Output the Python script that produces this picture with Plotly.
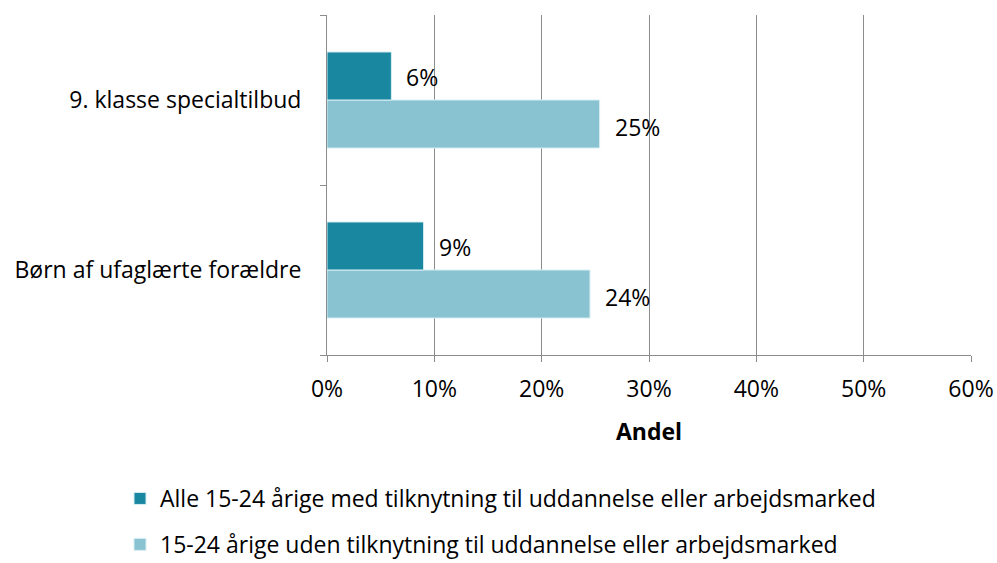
import plotly.graph_objects as go

categories = ["Børn af ufaglærte forældre", "9. klasse specialtilbud"]
series_names = [
    "Alle 15-24 årige med tilknytning til uddannelse eller arbejdsmarked",
    "15-24 årige uden tilknytning til uddannelse eller arbejdsmarked",
]
with_attachment = [9.0, 6.0]
without_attachment = [24.5, 25.4]
labels_with = ["9%", "6%"]
labels_without = ["24%", "25%"]
tick_vals = [0, 10, 20, 30, 40, 50, 60]
tick_text = ["0%", "10%", "20%", "30%", "40%", "50%", "60%"]

dark = "#1A87A0"
light = "#89C2D0"
FONT = "'Open Sans', sans-serif"
FS = 23

fig = go.Figure()
fig.add_trace(go.Bar(
    y=categories, x=without_attachment, orientation="h", name=series_names[1],
    marker=dict(color=light, line=dict(color="#d8eef3", width=1)),
    legendgroup="b", legendrank=2, hoverinfo="x+name",
))
fig.add_trace(go.Bar(
    y=categories, x=with_attachment, orientation="h", name=series_names[0],
    marker=dict(color=dark, line=dict(color="#d8eef3", width=1)),
    legendgroup="a", legendrank=1, hoverinfo="x+name",
))

for cat, v, t in zip(categories, with_attachment, labels_with):
    fig.add_annotation(x=v, y=cat, text=t, showarrow=False, xanchor="left",
                       xshift=13, yshift=23, font=dict(size=FS, color="#000"))
for cat, v, t in zip(categories, without_attachment, labels_without):
    fig.add_annotation(x=v, y=cat, text=t, showarrow=False, xanchor="left",
                       xshift=13, yshift=-27, font=dict(size=FS, color="#000"))

fig.update_layout(
    width=997, height=563,
    margin=dict(l=327, r=26, t=15, b=208, autoexpand=False),
    paper_bgcolor="white", plot_bgcolor="white",
    barmode="group", bargap=0.435, bargroupgap=0,
    font=dict(family=FONT, size=FS, color="#000"),
    showlegend=True,
    legend=dict(
        orientation="v", traceorder="grouped", tracegroupgap=13,
        xref="container", yref="container",
        x=120 / 997, xanchor="left", y=1 - 477 / 563, yanchor="top",
        font=dict(size=FS, color="#000"), itemwidth=30,
        bgcolor="rgba(0,0,0,0)",
    ),
    xaxis=dict(
        range=[0, 60], tickvals=tick_vals, ticktext=tick_text,
        showgrid=True, gridcolor="#8c8c8c", gridwidth=1,
        showline=True, linecolor="#8c8c8c", linewidth=1,
        ticks="outside", ticklen=6, tickcolor="#8c8c8c",
        zeroline=False, fixedrange=True, automargin=False,
        ticklabelstandoff=7,
        title=dict(text="<b>Andel</b>", standoff=21, font=dict(size=FS)),
        tickfont=dict(size=FS),
    ),
    yaxis=dict(
        showline=True, linecolor="#8c8c8c", linewidth=1,
        ticks="outside", ticklen=6, tickcolor="#8c8c8c",
        tickson="boundaries", showgrid=False, fixedrange=True,
        automargin=False,
        ticklabelstandoff=20, tickfont=dict(size=FS),
    ),
)

fig.write_html(
    "out.html",
    config={"displayModeBar": False},
    post_script="document.body.style.margin='0';document.body.style.overflow='hidden';",
)
